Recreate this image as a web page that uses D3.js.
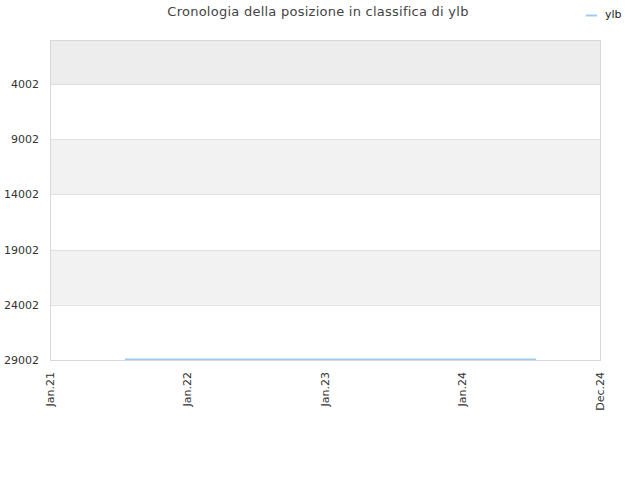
<!DOCTYPE html>
<html lang="it">
<head>
  <meta charset="UTF-8">
  <title>Cronologia della posizione in classifica di ylb</title>
  <script src="https://d3js.org/d3.v7.min.js"></script>
  <style>
    body {
      margin: 0;
      padding: 0;
      background: #fff;
      font-family: "DejaVu Sans", sans-serif;
    }
  </style>
</head>
<body>
  <div id="chart"></div>

  <script>
  // data
  const seriesName = "ylb";
  const dates = ["2021-07-19", "2021-10-01", "2022-01-01", "2022-04-01", "2022-07-01", "2022-10-01",
                 "2023-01-01", "2023-04-01", "2023-07-01", "2023-10-01", "2024-01-01", "2024-04-01", "2024-07-15"];
  const ranks = [28940, 28940, 28940, 28940, 28940, 28940, 28940, 28940, 28940, 28940, 28940, 28940, 28940];
  const yTicks = [4002, 9002, 14002, 19002, 24002, 29002];
  const xTickDates = ["2021-01-01", "2022-01-01", "2023-01-01", "2024-01-01", "2025-01-01"];
  const xTickLabels = ["Jan.21", "Jan.22", "Jan.23", "Jan.24", "Dec.24"];

  const width = 640, height = 480;
  const margin = {top: 40, right: 40, bottom: 120, left: 50};
  const parse = d3.timeParse("%Y-%m-%d");

  const svg = d3.select("#chart").append("svg")
    .attr("width", width).attr("height", height)
    .style("font-family", "'DejaVu Sans', sans-serif");

  const x = d3.scaleTime()
    .domain([parse(xTickDates[0]), parse(xTickDates[xTickDates.length - 1])])
    .range([margin.left, width - margin.right]);

  const y = d3.scaleLinear()
    .domain([1, 29002])
    .range([margin.top, height - margin.bottom]);

  // alternating bands between gridlines
  const edges = [y.domain()[0]].concat(yTicks);
  const bands = d3.pairs(edges);
  svg.append("g").selectAll("rect")
    .data(bands)
    .enter().append("rect")
    .attr("x", margin.left)
    .attr("width", width - margin.left - margin.right)
    .attr("y", d => y(d[0]))
    .attr("height", d => y(d[1]) - y(d[0]))
    .attr("fill", (d, i) => i === 0 ? "#ededed" : (i % 2 === 0 ? "#f2f2f2" : "#ffffff"));

  // gridlines
  svg.append("g").selectAll("line")
    .data(yTicks)
    .enter().append("line")
    .attr("x1", margin.left).attr("x2", width - margin.right)
    .attr("y1", d => Math.round(y(d)) + 0.5).attr("y2", d => Math.round(y(d)) + 0.5)
    .attr("stroke", "#e0e0e0");

  // frame
  svg.append("rect")
    .attr("x", margin.left + 0.5).attr("y", margin.top + 0.5)
    .attr("width", width - margin.left - margin.right)
    .attr("height", height - margin.top - margin.bottom)
    .attr("fill", "none")
    .attr("stroke", "#d8d8d8");

  // y tick labels
  svg.append("g").selectAll("text")
    .data(yTicks)
    .enter().append("text")
    .attr("x", margin.left - 11)
    .attr("y", d => y(d) + 4)
    .attr("text-anchor", "end")
    .attr("font-size", 11)
    .attr("fill", "#333")
    .text(d => d);

  // x tick labels, rotated
  svg.append("g").selectAll("text")
    .data(xTickDates)
    .enter().append("text")
    .attr("transform", d => `translate(${x(parse(d)) + 4},${height - margin.bottom + 12}) rotate(-90)`)
    .attr("text-anchor", "end")
    .attr("font-size", 11)
    .attr("fill", "#333")
    .text((d, i) => xTickLabels[i]);

  // series line
  const line = d3.line()
    .x((d, i) => x(parse(dates[i])))
    .y(d => y(d));

  svg.append("path")
    .datum(ranks)
    .attr("d", line)
    .attr("fill", "none")
    .attr("stroke", "#9ecbf2")
    .attr("stroke-width", 1.5);

  // title
  svg.append("text")
    .attr("x", 318).attr("y", 16)
    .attr("text-anchor", "middle")
    .attr("font-size", 13)
    .attr("letter-spacing", "0.25px")
    .attr("fill", "#444")
    .text("Cronologia della posizione in classifica di ylb");

  // legend
  svg.append("line")
    .attr("x1", 586).attr("x2", 597)
    .attr("y1", 15.5).attr("y2", 15.5)
    .attr("stroke", "#9ecbf2")
    .attr("stroke-width", 2);
  svg.append("text")
    .attr("x", 605).attr("y", 18)
    .attr("font-size", 11)
    .attr("fill", "#222")
    .text(seriesName);
  </script>
</body>
</html>
